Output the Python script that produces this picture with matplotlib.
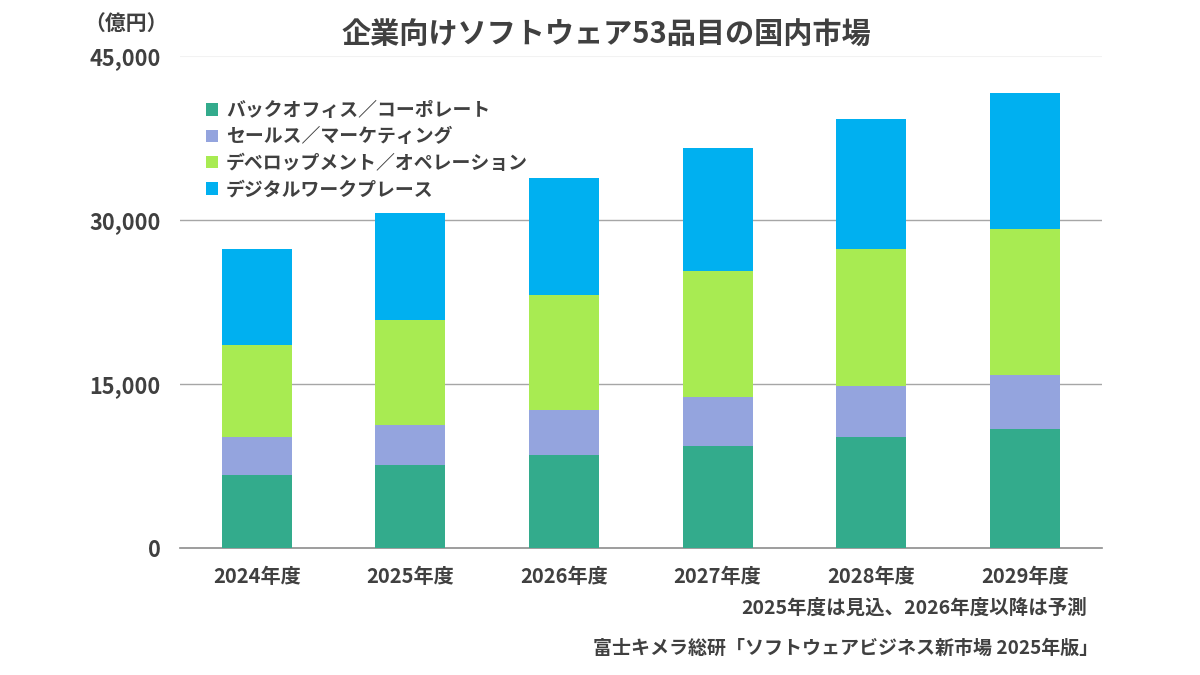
import matplotlib
matplotlib.use("Agg")
import matplotlib.pyplot as plt
import numpy as np

plt.rcParams['font.family'] = ['Noto Sans CJK JP', 'DejaVu Sans']

years = ["2024年度", "2025年度", "2026年度", "2027年度", "2028年度", "2029年度"]
series_names = ["バックオフィス／コーポレート", "セールス／マーケティング",
                "デベロップメント／オペレーション", "デジタルワークプレース"]
back_office = [6680, 7590, 8510, 9330, 10150, 10890]
sales_marketing = [3480, 3660, 4120, 4480, 4670, 4940]
dev_ops = [8410, 9610, 10520, 11520, 12530, 13360]
digital_workplace = [8790, 9790, 10700, 11260, 11900, 12440]
colors = ["#33AB8C", "#94A4DE", "#A8EB52", "#00B0F0"]

text_color = "#404040"

fig = plt.figure(figsize=(12, 6.75), dpi=100)
ax = fig.add_axes([0.15, 0.188, 0.768, 0.729])

x = np.arange(len(years))
bottom = np.zeros(len(years))
for name, vals, c in zip(series_names,
                         [back_office, sales_marketing, dev_ops, digital_workplace],
                         colors):
    ax.bar(x, vals, width=0.456, bottom=bottom, color=c, label=name, zorder=3)
    bottom += np.array(vals)

ax.set_xlim(-0.5, len(years) - 0.5)
ax.set_ylim(0, 45000)
ax.set_yticks([0, 15000, 30000, 45000])
ax.set_yticklabels(["0", "15,000", "30,000", "45,000"])
ax.set_xticks(x)
ax.set_xticklabels(years)
for lab in ax.get_yticklabels():
    lab.set_fontweight("bold")
    lab.set_color(text_color)
    lab.set_fontsize(15.6)
for lab in ax.get_xticklabels():
    lab.set_fontweight("bold")
    lab.set_color(text_color)
    lab.set_fontsize(14.5)
ax.tick_params(axis="both", length=0)
ax.tick_params(axis="y", pad=14)
ax.tick_params(axis="x", pad=13)

for v in [15000, 30000]:
    ax.axhline(v, color="#A6A6A6", linewidth=1, zorder=1)
ax.axhline(45000, color="#F2F2F2", linewidth=0.8, zorder=1)
for s in ["top", "right", "left"]:
    ax.spines[s].set_visible(False)
ax.spines["bottom"].set_color("#8C8C8C")
ax.spines["bottom"].set_linewidth(1.2)

leg = ax.legend(loc="upper left", bbox_to_anchor=(0.01, 0.943), frameon=False,
                fontsize=13.6, handlelength=0.65, handleheight=0.65,
                handletextpad=0.4, labelspacing=0.39)
for t in leg.get_texts():
    t.set_color(text_color)
    t.set_fontweight("bold")

fig.text(0.505, 0.948, "企業向けソフトウェア53品目の国内市場", ha="center", va="center",
         fontsize=21, fontweight="bold", color=text_color)
fig.text(0.105, 0.965, "（億円）", ha="center", va="center",
         fontsize=15, fontweight="bold", color=text_color)
fig.text(0.906, 0.099, "2025年度は見込、2026年度以降は予測", ha="right", va="center",
         fontsize=14, fontweight="bold", color=text_color)
fig.text(0.915, 0.04, "富士キメラ総研「ソフトウェアビジネス新市場 2025年版」", ha="right",
         va="center", fontsize=13.7, fontweight="bold", color=text_color)

fig.savefig("out.png", dpi=100)
